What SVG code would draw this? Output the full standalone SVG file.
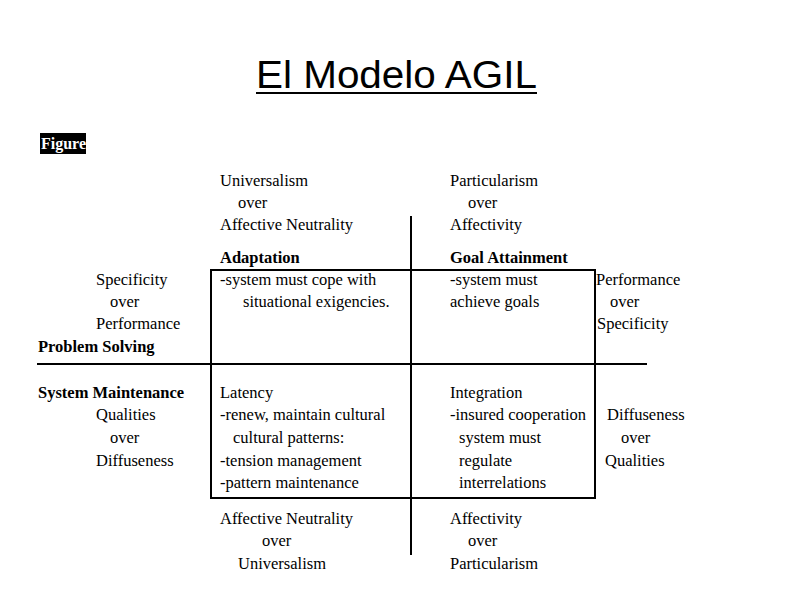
<svg xmlns="http://www.w3.org/2000/svg" width="794" height="595" viewBox="0 0 794 595">
<style>
text{font-family:"Liberation Serif","Times New Roman",serif;font-size:16.5px;fill:#000}
.b{font-weight:bold}
.t{font-family:"Liberation Sans",Arial,sans-serif;font-size:38px}
line,rect.box{stroke:#000;stroke-width:2;fill:none}
</style>
<rect width="794" height="595" fill="#fff"/>
<g id="title"><text class="t" x="256" y="88" textLength="281" lengthAdjust="spacingAndGlyphs">El Modelo AGIL</text><line x1="256" y1="93" x2="537" y2="93" stroke-width="1.5"/></g>
<g id="figure"><rect x="40" y="133" width="46" height="21" fill="#000"/><text class="b" x="41" y="149" style="fill:#fff;font-size:16px">Figure</text></g>
<g id="connectors">
<rect class="box" x="211" y="270" width="384" height="228"/>
<line x1="411" y1="216" x2="411" y2="555"/>
<line x1="37" y1="364" x2="647" y2="364"/>
</g>
<g id="top-left"><text x="220" y="186">Universalism</text><text x="238" y="208">over</text><text x="220" y="230">Affective Neutrality</text></g>
<g id="top-right"><text x="450" y="186">Particularism</text><text x="468" y="208">over</text><text x="450" y="230">Affectivity</text></g>
<g id="adaptation"><text class="b" x="220" y="263">Adaptation</text><text x="220" y="285">-system must cope with</text><text x="243" y="307">situational exigencies.</text></g>
<g id="goal"><text class="b" x="450" y="263">Goal Attainment</text><text x="450" y="285">-system must</text><text x="450" y="307">achieve goals</text></g>
<g id="left-top"><text x="96" y="285">Specificity</text><text x="110" y="307">over</text><text x="96" y="329">Performance</text><text class="b" x="38" y="352">Problem Solving</text></g>
<g id="right-top"><text x="596" y="285">Performance</text><text x="610" y="307">over</text><text x="597" y="329">Specificity</text></g>
<g id="left-bottom"><text class="b" x="38" y="398">System Maintenance</text><text x="96" y="420">Qualities</text><text x="110" y="443">over</text><text x="96" y="466">Diffuseness</text></g>
<g id="latency"><text x="220" y="398">Latency</text><text x="220" y="420">-renew, maintain cultural</text><text x="233" y="443">cultural patterns:</text><text x="220" y="466">-tension management</text><text x="220" y="488">-pattern maintenance</text></g>
<g id="integration"><text x="450" y="398">Integration</text><text x="450" y="420">-insured cooperation</text><text x="459" y="443">system must</text><text x="459" y="466">regulate</text><text x="459" y="488">interrelations</text></g>
<g id="right-bottom"><text x="607" y="420">Diffuseness</text><text x="621" y="443">over</text><text x="605" y="466">Qualities</text></g>
<g id="bottom-left"><text x="220" y="524">Affective Neutrality</text><text x="262" y="546">over</text><text x="238" y="569">Universalism</text></g>
<g id="bottom-right"><text x="450" y="524">Affectivity</text><text x="468" y="546">over</text><text x="450" y="569">Particularism</text></g>
</svg>
